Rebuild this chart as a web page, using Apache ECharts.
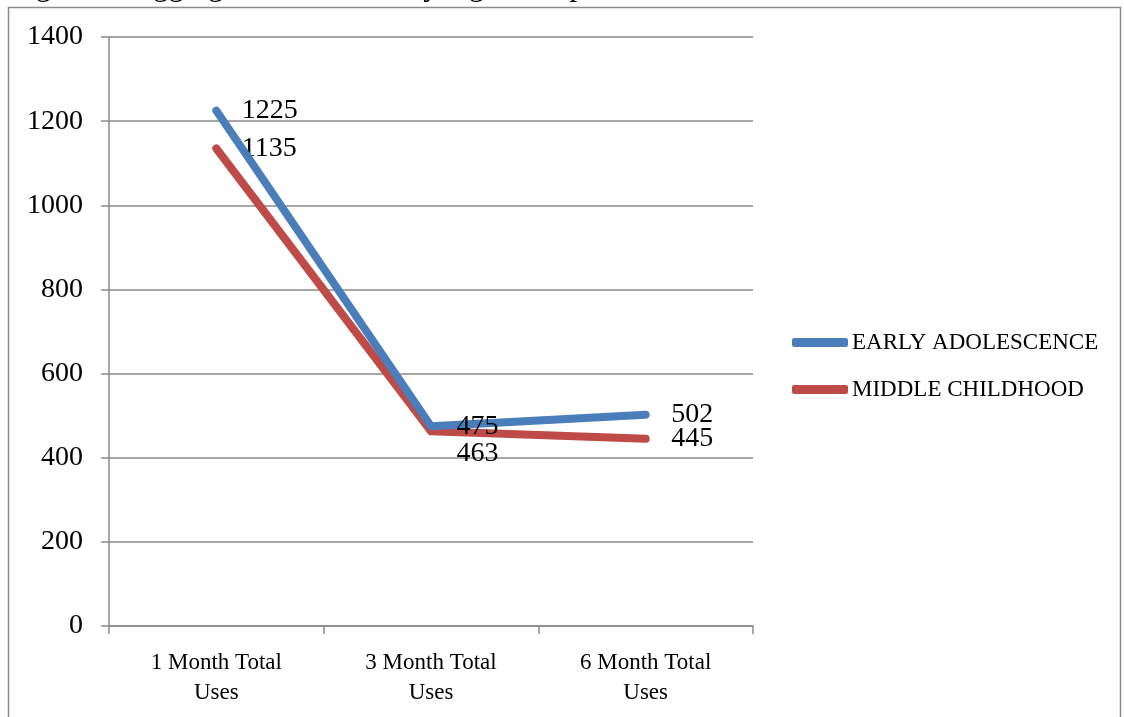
<!DOCTYPE html>
<html>
<head>
<meta charset="utf-8">
<script src="https://cdn.jsdelivr.net/npm/echarts@6/dist/echarts.min.js"></script>
<style>
  html, body { margin: 0; padding: 0; background: #ffffff; }
  #chart { width: 1124px; height: 717px; }
</style>
</head>
<body>
<div id="chart"></div>
<script>
// Aggregate utilization by age group
const titleText = 'Figure 5: Aggregate Utilization by Age Group';
const categories = ['1 Month Total\nUses', '3 Month Total\nUses', '6 Month Total\nUses'];
const seriesNames = ['EARLY ADOLESCENCE', 'MIDDLE CHILDHOOD'];
const earlyAdolescence = [1225, 475, 502];
const middleChildhood = [1135, 463, 445];
const yTicks = { min: 0, max: 1400, step: 200 };

const serif = '"Liberation Serif", "DejaVu Serif", serif';
const gridGray = '#8a8a8a';

const chart = echarts.init(document.getElementById('chart'), null, { renderer: 'canvas' });

function lineSeries(name, values, color, labelOffsets) {
  return {
    name: name,
    type: 'line',
    data: values.map((v, i) => ({
      value: v,
      label: labelOffsets[i] ? { offset: labelOffsets[i] } : undefined
    })),
    showSymbol: true,
    symbol: 'circle',
    symbolSize: 1,
    lineStyle: { color: color, width: 8, cap: 'round', join: 'round' },
    itemStyle: { color: color },
    label: {
      show: true,
      position: 'right',
      distance: 25,
      fontFamily: serif,
      fontSize: 28,
      color: '#000000'
    },
    emphasis: { disabled: true },
    z: name === seriesNames[0] ? 3 : 2
  };
}

chart.setOption({
  animation: false,
  backgroundColor: '#ffffff',
  graphic: [
    {
      // caption sits just above the chart frame; only its descenders reach the canvas
      type: 'text',
      x: 10,
      y: -13,
      silent: true,
      style: {
        text: titleText,
        font: '31px ' + serif,
        fill: '#000000',
        verticalAlign: 'middle'
      }
    },
    {
      type: 'rect',
      shape: { x: 8.5, y: 7.5, width: 1112, height: 730 },
      style: { fill: 'none', stroke: gridGray, lineWidth: 1.5 },
      silent: true,
      z: -1
    }
  ],
  grid: { left: 109, right: 371, top: 37, bottom: 91, containLabel: false },
  legend: {
    orient: 'vertical',
    left: 787,
    top: 326,
    itemWidth: 56,
    itemHeight: 9,
    itemGap: 24,
    icon: 'roundRect',
    data: seriesNames,
    textStyle: { fontFamily: serif, fontSize: 23, color: '#000000', padding: [0, 0, 0, -1] }
  },
  xAxis: {
    type: 'category',
    data: categories,
    boundaryGap: true,
    axisLine: { lineStyle: { color: gridGray, width: 1.5 } },
    axisTick: { show: true, length: 8, lineStyle: { color: gridGray, width: 1.5 } },
    axisLabel: { fontFamily: serif, fontSize: 23, color: '#000000', margin: 22, lineHeight: 30 }
  },
  yAxis: {
    type: 'value',
    min: yTicks.min,
    max: yTicks.max,
    interval: yTicks.step,
    axisLine: { show: true, lineStyle: { color: gridGray, width: 1.5 } },
    axisTick: { show: true, length: 8, lineStyle: { color: gridGray, width: 1.5 } },
    splitLine: { show: true, lineStyle: { color: gridGray, width: 1.5 } },
    axisLabel: {
      fontFamily: serif, fontSize: 28, color: '#000000', margin: 26,
      formatter: (v) => String(v)
    }
  },
  series: [
    lineSeries(seriesNames[0], earlyAdolescence, '#4a7ebb', [null, null, null]),
    lineSeries(seriesNames[1], middleChildhood, '#be4b48', [null, [0, 22], null])
  ]
});
</script>
</body>
</html>
